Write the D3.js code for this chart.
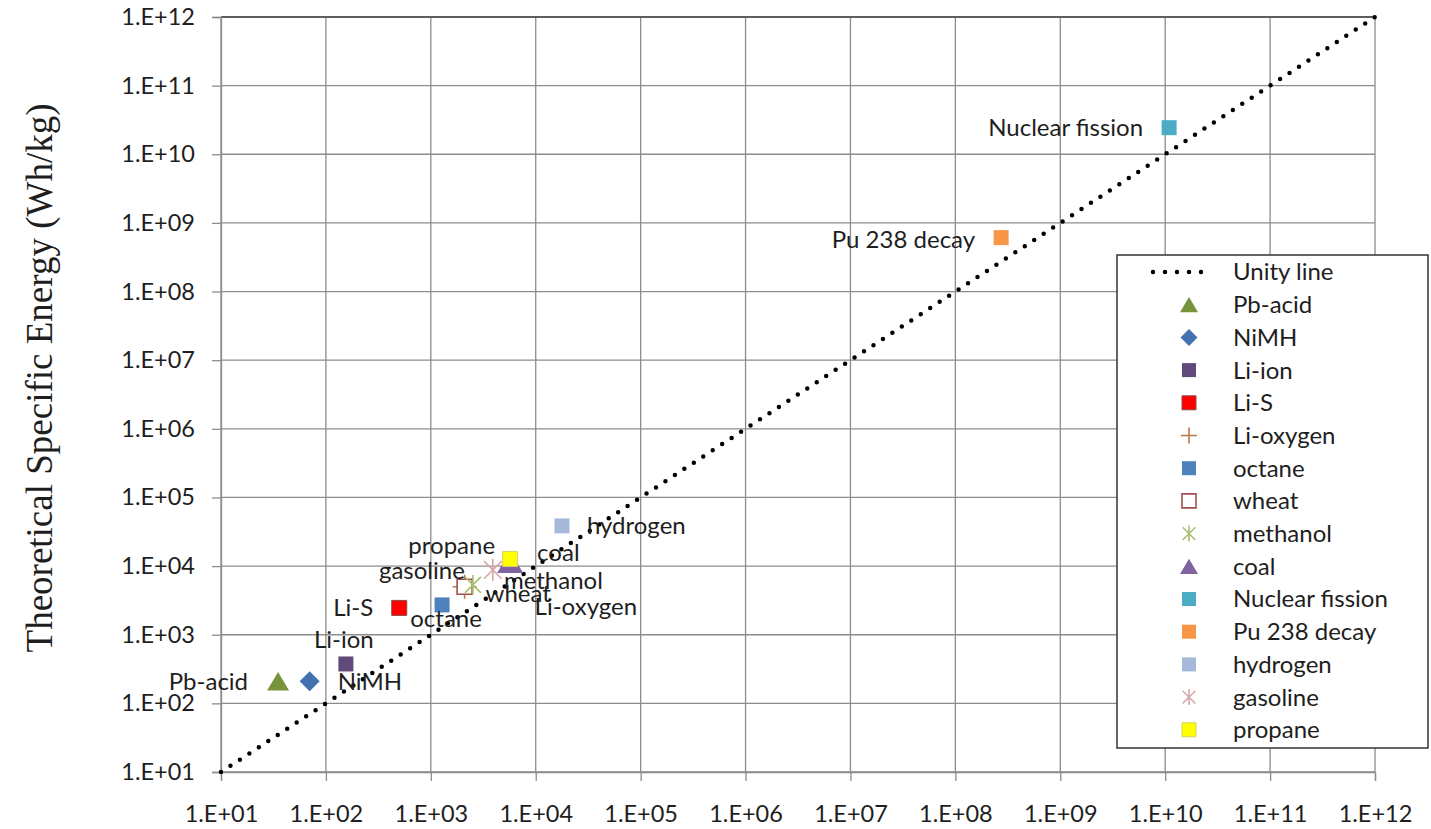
<!DOCTYPE html>
<html>
<head>
<meta charset="utf-8">
<script src="https://cdn.jsdelivr.net/npm/d3@7"></script>
<style>
  html, body { margin: 0; padding: 0; background: #fff; }
  svg { display: block; }
</style>
</head>
<body>
<svg id="chart" width="1431" height="829"></svg>
<script>
// ---------- DATA ----------
const seriesNames = ["Pb-acid", "NiMH", "Li-ion", "Li-S", "Li-oxygen", "octane", "wheat",
  "methanol", "coal", "Nuclear fission", "Pu 238 decay", "hydrogen", "gasoline", "propane"];
const xValues = [35, 70, 155, 500, 2100, 1280, 2100, 2520, 5700, 1.09e10, 2.73e8, 17800, 3900, 5700];
const yValues = [210, 210, 375, 2460, 5000, 2720, 5000, 5320, 11500, 2.44e10, 6.1e8, 38500, 8800, 12700];
const unityLine = [10, 1e12];
const tickExponents = [1, 2, 3, 4, 5, 6, 7, 8, 9, 10, 11, 12];
const tickValues = tickExponents.map(e => Math.pow(10, e));
const tickLabels = tickExponents.map(e => "1.E+" + String(e).padStart(2, "0"));
const yTitle = "Theoretical Specific Energy (Wh/kg)";
const unityLabel = "Unity line";

// ---------- STYLE ----------
const markerStyles = [
  { shape: "triangle", size: 22, fill: "#77933C", stroke: "none" },
  { shape: "diamond", size: 20, fill: "#4472B0", stroke: "none" },
  { shape: "square", size: 15, fill: "#604A7B", stroke: "none" },
  { shape: "square", size: 15, fill: "#FF0000", stroke: "#8a4a4a" },
  { shape: "plus", size: 24, fill: "none", stroke: "#B9784A" },
  { shape: "square", size: 15, fill: "#4F81BD", stroke: "none" },
  { shape: "square", size: 15, fill: "none", stroke: "#A0504D" },
  { shape: "star", size: 20, fill: "none", stroke: "#A8C070" },
  { shape: "triangle", size: 26, fill: "#8064A2", stroke: "none" },
  { shape: "square", size: 15, fill: "#4BACC6", stroke: "none" },
  { shape: "square", size: 15, fill: "#F79646", stroke: "none" },
  { shape: "square", size: 15, fill: "#A6B9DB", stroke: "none" },
  { shape: "star", size: 22, fill: "none", stroke: "#D8A6AD" },
  { shape: "square", size: 15, fill: "#FFFF00", stroke: "#d8d060" }
];
// label placement: [dx, dy, anchor]
const labelPlacement = [
  [-30, 0, "end"], [28, 0, "start"], [-2, -24, "middle"], [-26, 0, "end"],
  [70, 20, "start"], [4, 14, "middle"], [21, 7, "start"], [31, -4, "start"],
  [27, -9, "start"], [-26, 0, "end"], [-26, 2, "end"], [25, 0, "start"],
  [-28, 1, "end"], [-15, -13, "end"]
];

const FONT = "Lato, 'Open Sans', sans-serif";
const TXT = "#1e1e1e";
const GRID = "#8c8c8c";

const svg = d3.select("#chart");
const L = 221, R = 1375, T = 17, B = 772;
const x = d3.scaleLog().domain([10, 1e12]).range([L, R]);
const y = d3.scaleLog().domain([10, 1e12]).range([B, T]);

// gridlines
const grid = svg.append("g");
grid.selectAll(".gx").data(tickValues).enter().append("line")
  .attr("x1", d => x(d)).attr("x2", d => x(d)).attr("y1", T).attr("y2", B)
  .attr("stroke", GRID).attr("stroke-width", 1.3);
grid.selectAll(".gy").data(tickValues).enter().append("line")
  .attr("x1", L).attr("x2", R).attr("y1", d => y(d)).attr("y2", d => y(d))
  .attr("stroke", GRID).attr("stroke-width", 1.3);
grid.append("line").attr("x1", L).attr("x2", R).attr("y1", T).attr("y2", T)
  .attr("stroke", "#444").attr("stroke-width", 1.5);

// axes
const fmt = d => tickLabels[tickValues.indexOf(d)];
const yAxis = svg.append("g").attr("transform", `translate(${L},0)`)
  .call(d3.axisLeft(y).tickValues(tickValues).tickFormat(fmt).tickSize(9).tickPadding(17));
const xAxis = svg.append("g").attr("transform", `translate(0,${B})`)
  .call(d3.axisBottom(x).tickValues(tickValues).tickFormat(fmt).tickSize(9).tickPadding(24));
[yAxis, xAxis].forEach(a => {
  a.select(".domain").attr("stroke", GRID).attr("stroke-width", 1.3);
  a.selectAll(".tick line").attr("stroke", GRID).attr("stroke-width", 1.3);
  a.selectAll(".tick text").attr("fill", TXT).style("font-family", FONT).style("font-size", "23.5px");
});

// y title
svg.append("text")
  .attr("transform", `translate(52,378) rotate(-90)`)
  .attr("text-anchor", "middle")
  .style("font-family", "'Liberation Serif', 'Times New Roman', serif")
  .style("font-size", "37px")
  .attr("fill", TXT)
  .text(yTitle);

// unity line
svg.append("line")
  .attr("x1", x(unityLine[0])).attr("y1", y(unityLine[0]))
  .attr("x2", x(unityLine[1])).attr("y2", y(unityLine[1]))
  .attr("stroke", "#000").attr("stroke-width", 4.5)
  .attr("stroke-linecap", "round").attr("stroke-dasharray", "0 11.3");

// marker path generator (bbox-centered)
function markerPath(shape, s) {
  const h = s / 2;
  switch (shape) {
    case "triangle": return `M0,${-h * 0.85}L${h},${h * 0.85}L${-h},${h * 0.85}Z`;
    case "diamond": return `M0,${-h}L${h},0L0,${h}L${-h},0Z`;
    case "square": return `M${-h},${-h}H${h}V${h}H${-h}Z`;
    case "plus": return `M${-h},0H${h}M0,${-h}V${h}`;
    case "star": return `M${-h * 0.8},${-h * 0.8}L${h * 0.8},${h * 0.8}M${h * 0.8},${-h * 0.8}L${-h * 0.8},${h * 0.8}M0,${-h}V${h}`;
  }
}
function drawMarker(g, st, scale) {
  const s = st.size * (scale || 1);
  const lineShape = st.shape === "plus" || st.shape === "star";
  g.append("path").attr("d", markerPath(st.shape, s))
    .attr("fill", st.fill === "none" ? (lineShape ? "none" : "#fff") : st.fill)
    .attr("stroke", st.stroke === "none" ? "none" : st.stroke)
    .attr("stroke-width", lineShape ? 1.6 : (st.fill === "none" ? 1.6 : 1));
}

// points
const pts = svg.append("g");
seriesNames.forEach((name, i) => {
  const g = pts.append("g").attr("transform", `translate(${x(xValues[i])},${y(yValues[i])})`);
  drawMarker(g, markerStyles[i]);
});
// labels
const lbl = svg.append("g");
seriesNames.forEach((name, i) => {
  const p = labelPlacement[i];
  lbl.append("text")
    .attr("x", x(xValues[i]) + p[0]).attr("y", y(yValues[i]) + p[1])
    .attr("dy", "0.35em").attr("text-anchor", p[2])
    .style("font-family", FONT).style("font-size", "24px").attr("fill", TXT)
    .text(name);
});

// legend
const lg = svg.append("g").attr("transform", "translate(1117,255)");
lg.append("rect").attr("width", 311).attr("height", 493)
  .attr("fill", "#fff").attr("stroke", "#333").attr("stroke-width", 1.5);
const rowY = i => 17 + i * 32.7;
lg.append("line").attr("x1", 36).attr("x2", 96).attr("y1", rowY(0)).attr("y2", rowY(0))
  .attr("stroke", "#000").attr("stroke-width", 4.5).attr("stroke-linecap", "round")
  .attr("stroke-dasharray", "0 12");
lg.append("text").attr("x", 116).attr("y", rowY(0)).attr("dy", "0.35em")
  .style("font-family", FONT).style("font-size", "24px").attr("fill", TXT).text(unityLabel);
seriesNames.forEach((name, i) => {
  const g = lg.append("g").attr("transform", `translate(72,${rowY(i + 1)})`);
  const st = Object.assign({}, markerStyles[i]);
  if (st.shape === "triangle") st.size = 18;
  if (st.shape === "diamond") st.size = 17;
  if (st.shape === "plus") st.size = 16;
  if (st.shape === "star") st.size = 16;
  if (st.shape === "square") st.size = 14;
  drawMarker(g, st);
  lg.append("text").attr("x", 116).attr("y", rowY(i + 1)).attr("dy", "0.35em")
    .style("font-family", FONT).style("font-size", "24px").attr("fill", TXT).text(name);
});
</script>
</body>
</html>
